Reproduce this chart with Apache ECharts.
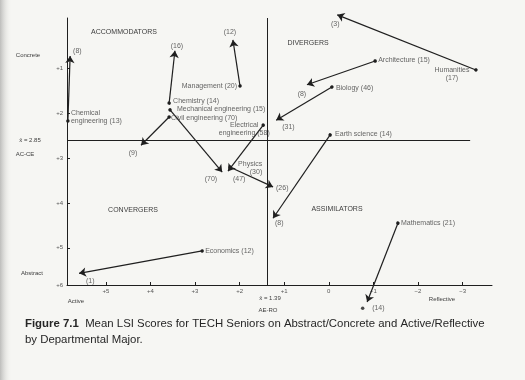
<!DOCTYPE html>
<html>
<head>
<meta charset="utf-8">
<script src="https://cdn.jsdelivr.net/npm/echarts@6/dist/echarts.min.js"></script>
<style>
  html, body { margin: 0; background: #f6f6f3; }
  #chart { width: 525px; height: 380px; }
</style>
</head>
<body>
<div id="chart"></div>
<script>
// departments, senior N, mean (AE-RO, AC-CE) of the labelled point and of the arrow end
const departments = ['Chemical engineering', 'Chemistry', 'Mechanical engineering', 'Civil engineering',
  'Electrical engineering', 'Physics', 'Management', 'Humanities', 'Architecture', 'Biology',
  'Earth science', 'Economics', 'Mathematics'];
const seniorN = [13, 14, 15, 70, 58, 30, 20, 17, 15, 46, 14, 12, 21];
const startAe = [5.85, 3.58, 3.56, 3.58, 1.47, 2.21, 1.99, -3.30, -1.04, -0.07, -0.03, 2.84, -1.55];
const startAc = [2.17, 1.77, 1.92, 2.08, 2.26, 3.20, 1.39, 1.03, 0.83, 1.41, 2.48, 5.07, 4.45];
const endAe = [5.80, 3.45, 2.39, 4.21, 2.26, 1.25, 2.15, -0.19, 0.49, 1.18, 1.25, 5.60, -0.86];
const endAc = [0.72, 0.60, 3.31, 2.71, 3.29, 3.64, 0.36, -0.20, 1.36, 2.15, 4.34, 5.57, 6.21];
const endN = [8, 16, 70, 9, 47, 26, 12, 3, 8, 31, 8, 1, 14];

const aeTicks = [5, 4, 3, 2, 1, 0, -1, -2, -3];
const acTicks = [1, 2, 3, 4, 5];
const aeMin = -3.66, aeMax = 5.87;
const acMin = -0.13, acMax = 5.83;
const meanAe = 1.39;
const meanAc = 2.6; // where the figure draws the line (its label says 2.85)

const ink = '#1f1f1f';
const textInk = '#3c3c3c';
const font = '"Liberation Sans", Arial, sans-serif';

// label placement, by department
const nameLabel = {
  'Chemical engineering': { position: 'right', distance: 3, offset: [0, -4], wrap: 'name' },
  'Chemistry': { position: 'right', distance: 4, offset: [0, -2] },
  'Mechanical engineering': { position: 'right', distance: 7, offset: [0, -1] },
  'Civil engineering': { position: 'right', distance: 2, offset: [0, 1] },
  'Electrical engineering': { position: 'left', distance: 0, offset: [-19, 4], align: 'center', wrap: 'name' },
  'Physics': { position: 'right', distance: 32, offset: [0, 1], align: 'right', wrap: 'n' },
  'Management': { position: 'left', distance: 3, offset: [0, 0] },
  'Humanities': { position: 'left', distance: 0, offset: [-24, 4], align: 'center', wrap: 'n' },
  'Architecture': { position: 'right', distance: 3, offset: [0, -1] },
  'Biology': { position: 'right', distance: 4, offset: [0, 1] },
  'Earth science': { position: 'right', distance: 5, offset: [0, -1] },
  'Economics': { position: 'right', distance: 3, offset: [0, 0] },
  'Mathematics': { position: 'right', distance: 3, offset: [0, 0] }
};
const endLabel = {
  'Chemical engineering': { position: 'right', distance: 3, offset: [0, -5] },
  'Chemistry': { position: 'top', distance: 1, offset: [2, 0] },
  'Mechanical engineering': { position: 'left', distance: 5, offset: [0, 7] },
  'Civil engineering': { position: 'bottom', distance: 4, offset: [-8, 0] },
  'Electrical engineering': { position: 'right', distance: 5, offset: [0, 8] },
  'Physics': { position: 'right', distance: 3, offset: [0, 1] },
  'Management': { position: 'top', distance: 4, offset: [-3, 0] },
  'Humanities': { position: 'bottom', distance: 5, offset: [-2, 0] },
  'Architecture': { position: 'bottom', distance: 5, offset: [-5, 0] },
  'Biology': { position: 'right', distance: 6, offset: [0, 7] },
  'Earth science': { position: 'right', distance: 2, offset: [0, 5] },
  'Economics': { position: 'right', distance: 7, offset: [0, 8] },
  'Mathematics': { position: 'right', distance: 5, offset: [0, 6] }
};

function nameText(name, n, wrap) {
  if (wrap === 'name') return name.replace(' ', '\n') + ' (' + n + ')';
  if (wrap === 'n') return name + '\n(' + n + ')';
  return name + ' (' + n + ')';
}

const smallText = { fontSize: 7, fontFamily: font, color: textInk, lineHeight: 8 };

const chart = echarts.init(document.getElementById('chart'));
chart.setOption({
  backgroundColor: '#f6f6f3',
  animation: false,
  grid: { left: 67, right: 33, top: 18, bottom: 95 },
  xAxis: {
    type: 'value',
    min: aeMin,
    max: aeMax,
    inverse: true,
    splitLine: { show: false },
    axisLine: { onZero: false, lineStyle: { color: ink, width: 1 } },
    axisTick: { inside: true, length: 3, customValues: aeTicks, lineStyle: { color: ink } },
    axisLabel: {
      customValues: aeTicks,
      margin: 3,
      fontSize: 6,
      fontFamily: font,
      color: '#555',
      formatter: v => (v > 0 ? '+' + v : v < 0 ? '\u2212' + Math.abs(v) : '0')
    }
  },
  yAxis: {
    type: 'value',
    min: acMin,
    max: acMax,
    inverse: true,
    splitLine: { show: false },
    axisLine: { onZero: false, lineStyle: { color: ink, width: 1 } },
    axisTick: { inside: true, length: 3, customValues: acTicks, lineStyle: { color: ink } },
    axisLabel: {
      customValues: acTicks.concat([acMax]),
      margin: 4,
      fontSize: 6,
      fontFamily: font,
      color: '#555',
      formatter: v => '+' + Math.round(v)
    }
  },
  series: [
    {
      type: 'lines',
      coordinateSystem: 'cartesian2d',
      clip: false,
      symbol: ['circle', 'arrow'],
      symbolSize: [3.5, 7],
      lineStyle: { color: ink, width: 1.2, opacity: 1 },
      data: departments.map((d, i) => ({
        coords: [[startAe[i], startAc[i]], [endAe[i], endAc[i]]]
      }))
    },
    {
      // department labels at the start points
      type: 'scatter',
      clip: false,
      symbolSize: 0,
      silent: true,
      data: departments.map((d, i) => {
        const s = nameLabel[d];
        return {
          value: [startAe[i], startAc[i]],
          label: Object.assign({
            show: true,
            position: s.position,
            distance: s.distance,
            offset: s.offset,
            align: s.align,
            formatter: nameText(d, seniorN[i], s.wrap)
          }, smallText)
        };
      }),
      markLine: {
        silent: true,
        symbol: 'none',
        label: { show: false },
        lineStyle: { color: ink, width: 1, type: 'solid' },
        data: [
          [{ coord: [meanAe, acMin] }, { coord: [meanAe, acMax] }],
          [{ coord: [aeMax, meanAc] }, { coord: [-3.17, meanAc] }]
        ]
      }
    },
    {
      // group sizes at the arrow ends
      type: 'scatter',
      clip: false,
      symbolSize: 0,
      silent: true,
      data: departments.map((d, i) => {
        const s = endLabel[d];
        return {
          value: [endAe[i], endAc[i]],
          label: Object.assign({
            show: true,
            position: s.position,
            distance: s.distance,
            offset: s.offset,
            formatter: '(' + endN[i] + ')'
          }, smallText)
        };
      })
    },
    {
      // stray point under the Mathematics arrow
      type: 'scatter',
      clip: false,
      symbol: 'circle',
      symbolSize: 3.5,
      itemStyle: { color: ink },
      silent: true,
      data: [[-0.76, 6.35]]
    }
  ],
  graphic: [
    {
      type: 'rect',
      shape: { x: 0, y: 0, width: 12, height: 380 },
      style: {
        fill: new echarts.graphic.LinearGradient(0, 0, 1, 0, [
          { offset: 0, color: '#bdbdbb' },
          { offset: 1, color: 'rgba(246,246,243,0)' }
        ])
      },
      silent: true
    },
    ...[
      ['ACCOMMODATORS', 124, 32],
      ['DIVERGERS', 308, 43],
      ['CONVERGERS', 133, 210],
      ['ASSIMILATORS', 337, 209]
    ].map(([t, x, y]) => ({
      type: 'text', x, y, silent: true,
      style: { text: t, fontSize: 7, fontFamily: font, fill: textInk, align: 'center', verticalAlign: 'middle' }
    })),
    ...[
      ['Concrete', 28, 55],
      ['Abstract', 32, 273],
      ['x\u0304 = 2.85', 30, 140],
      ['AC-CE', 25, 154],
      ['Active', 76, 301],
      ['Reflective', 442, 299],
      ['x\u0304 = 1.39', 270, 298],
      ['AE-RO', 268, 310]
    ].map(([t, x, y]) => ({
      type: 'text', x, y, silent: true,
      style: { text: t, fontSize: 6, fontFamily: font, fill: textInk, align: 'center', verticalAlign: 'middle' }
    })),
    {
      type: 'text', x: 25, y: 316, silent: true,
      style: {
        text: '{b|Figure 7.1}  Mean LSI Scores for TECH Seniors on Abstract/Concrete and Active/Reflective\nby Departmental Major.',
        fontSize: 11.4,
        lineHeight: 16,
        fontFamily: font,
        fill: '#262626',
        verticalAlign: 'top',
        rich: { b: { fontWeight: 'bold', fontSize: 11.4, fontFamily: font, fill: '#262626' } }
      }
    }
  ]
});
</script>
</body>
</html>
